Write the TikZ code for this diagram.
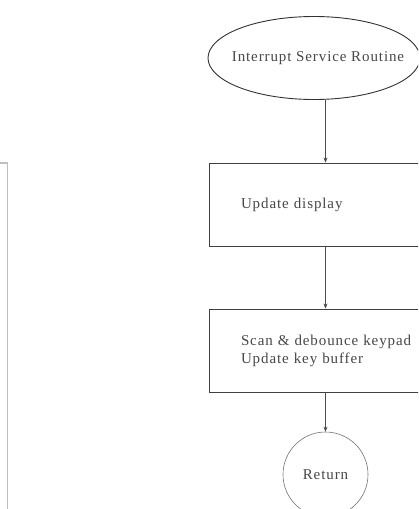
\documentclass[tikz,border=0pt]{standalone}
\usepackage{fontspec}
\setmainfont{Liberation Serif}[LetterSpace=6]
\usetikzlibrary{shapes.geometric,arrows.meta}
\begin{document}
\begin{tikzpicture}[x=1pt,y=-1pt,
  every node/.style={font=\fontsize{15}{18}\selectfont, text=black!72},
  ellbox/.style={ellipse, draw=black!80, line width=0.9pt, minimum width=212pt, minimum height=83pt, inner sep=0pt},
  procbox/.style={rectangle, draw=black!75, line width=0.9pt, minimum width=240pt, minimum height=83pt, text width=176pt, inner xsep=32pt, align=left},
  retcirc/.style={circle, draw=black!55, line width=0.6pt, minimum size=85pt, inner sep=0pt},
  flow/.style={draw=black!70, line width=0.5pt, -{Stealth[length=5pt,width=4pt]}}]
\useasboundingbox (0,0) rectangle (418,509);
\fill[white] (0,0) rectangle (418,509);
\clip (0,0) rectangle (418,509);
\node[ellbox, label={[xshift=4pt]center:Interrupt Service Routine}] (isr) at (314,58) {};
\node[procbox] (upd) at (329,204.5) {Update display};
\node[procbox] (scan) at (329,350.5) {Scan \& debounce keypad\\Update key buffer};
\node[retcirc] (ret) at (325.5,474.5) {Return};
\coordinate (ax) at (325.5,0);
\draw[flow] (isr.south -| ax) -- (upd.north -| ax);
\draw[flow] (upd.south -| ax) -- (scan.north -| ax);
\draw[flow] (scan.south -| ax) -- (ret.north);
\coordinate (lt) at (7.5,163);
\coordinate (lb) at (7.5,512);
\draw[black!25, line width=1.5pt] (-2,163) -- (lt) -- (lb);
\end{tikzpicture}
\end{document}
